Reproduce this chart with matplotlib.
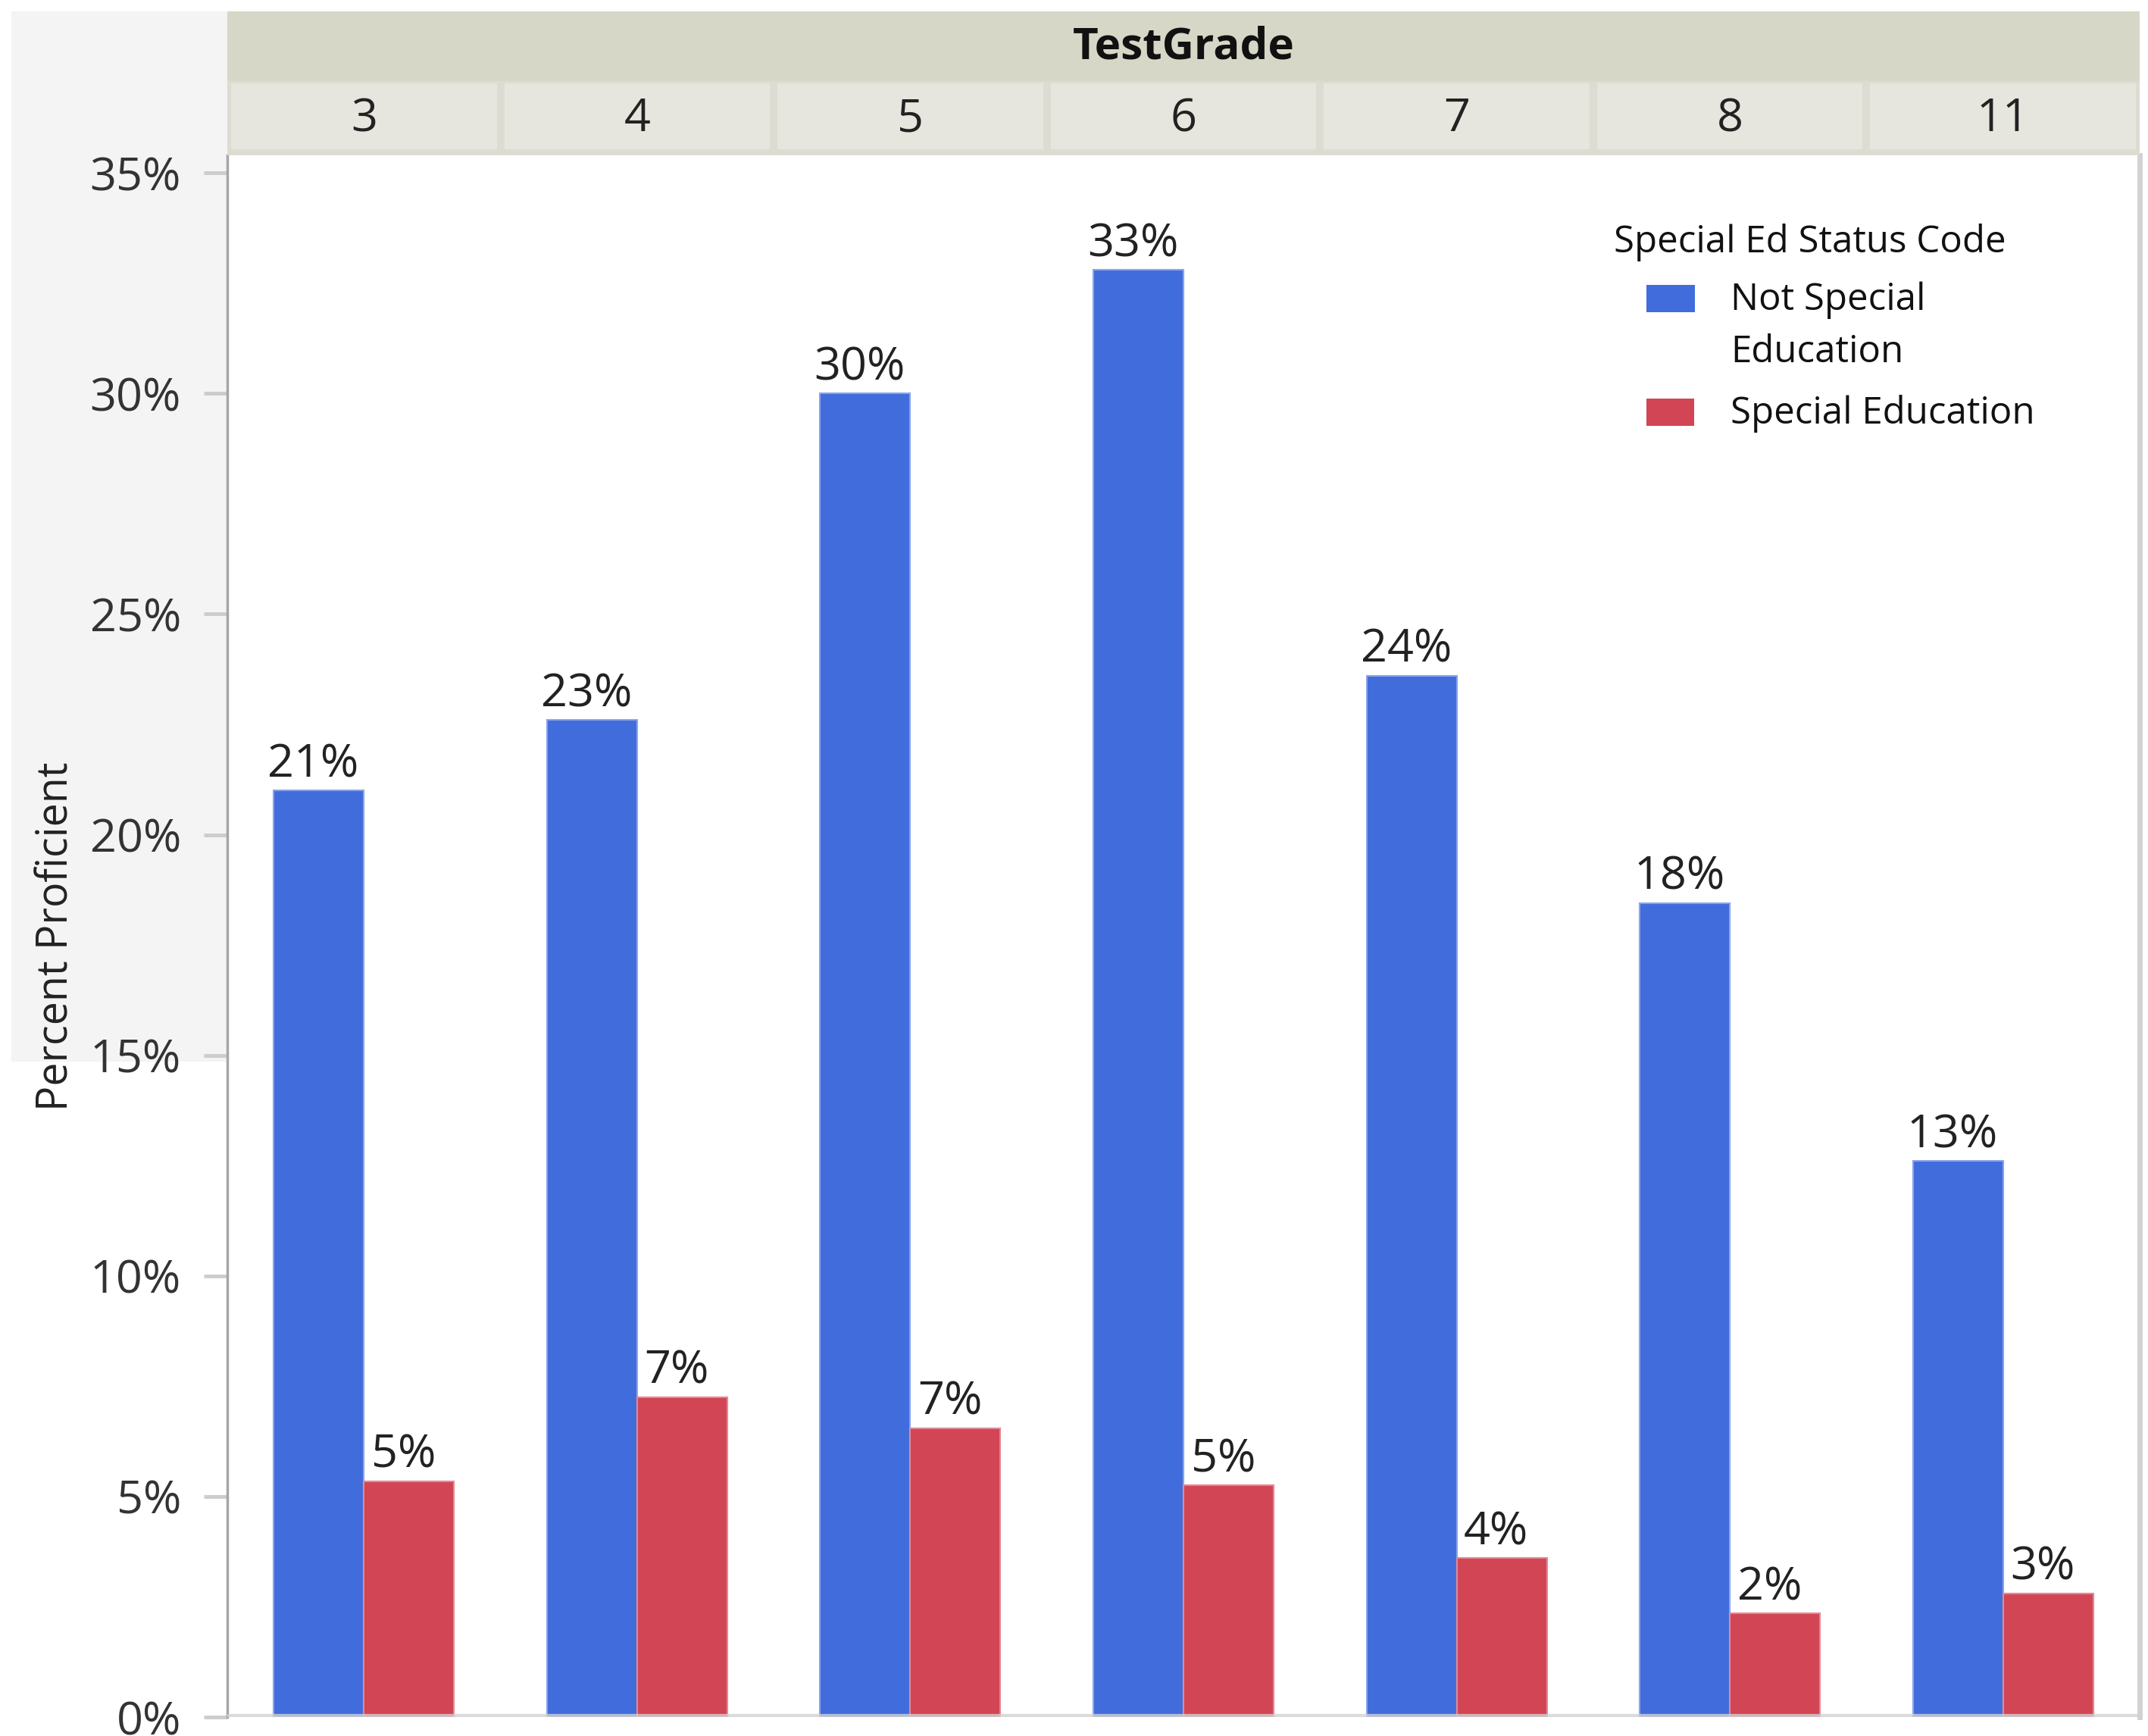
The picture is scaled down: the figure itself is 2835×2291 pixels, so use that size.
import matplotlib
matplotlib.use("Agg")
import matplotlib.pyplot as plt
from matplotlib.patches import Rectangle
import numpy as np

# values (percent proficient)
grades = ["3", "4", "5", "6", "7", "8", "11"]
not_sped = [21.0, 22.6, 30.0, 32.8, 23.6, 18.45, 12.6]
sped = [5.35, 7.25, 6.55, 5.25, 3.6, 2.35, 2.8]
series_names = ["Not Special\nEducation", "Special Education"]
legend_title = "Special Ed Status Code"
header_title = "TestGrade"
y_label = "Percent Proficient"
y_ticks = [0, 5, 10, 15, 20, 25, 30, 35]

BLUE = "#416cdc"
RED = "#d24555"

W, H = 2835, 2291
plt.rcParams['font.family'] = ['Open Sans', 'DejaVu Sans']


def fx(px):
    return px / W


def fy(py):
    return 1 - py / H


def fig_rect(x0, y0, x1, y1, color, z=0):
    # rectangle given in pixel coords (top-left origin)
    fig.patches.append(Rectangle((fx(x0), fy(y1)), fx(x1) - fx(x0), fy(y0) - fy(y1),
                                 transform=fig.transFigure, facecolor=color,
                                 edgecolor="none", zorder=z))


fig = plt.figure(figsize=(W / 100, H / 100), dpi=100)

# light grey panel behind the y axis
fig_rect(15, 15, 300, 1401, "#f4f4f4", z=-5)

left, right, top, bottom = 300, 2824, 205, 2266
ax = fig.add_axes([fx(left), fy(bottom), fx(right) - fx(left), fy(top) - fy(bottom)])
ax.set_zorder(1)

# header strips
fig_rect(left, 15, right, 107, "#d7d7c7", z=2)
fig_rect(left, 107, right, 205, "#dcdcd2", z=2)
cell_w = (right - left) / len(grades)
for i, g in enumerate(grades):
    x0 = left + i * cell_w
    fig_rect(x0 + 5, 110, x0 + cell_w - 5, 197, "#e6e6de", z=3)
    fig.text(fx(x0 + cell_w / 2), fy(157), g, ha="center", va="center",
             fontsize=44, color="#222222", zorder=4)
fig.text(fx((left + right) / 2), fy(63), header_title, ha="center", va="center",
         fontsize=42, fontweight="bold", color="#111111", zorder=4)

x = np.arange(len(grades))
bw = 0.33
ax.bar(x + 0.335, not_sped, width=bw, color=BLUE, edgecolor="#8aa3ea", linewidth=1.5, zorder=2)
ax.bar(x + 0.665, sped, width=bw, color=RED, edgecolor="#e08a94", linewidth=1.5, zorder=2)

for xi, v in zip(x + 0.335, not_sped):
    ax.annotate(f"{round(v)}%", (xi - 0.02, v), xytext=(0, 3), textcoords="offset points",
                ha="center", va="bottom", fontsize=44, color="#222222")
for xi, v in zip(x + 0.665, sped):
    ax.annotate(f"{round(v)}%", (xi - 0.02, v), xytext=(0, 3), textcoords="offset points",
                ha="center", va="bottom", fontsize=44, color="#222222")

ax.axhline(0, color="#d2d2d2", linewidth=6, alpha=0.8, zorder=3)

ax.set_xlim(0, len(grades))
ax.set_ylim(0, 35.4)
ax.set_xticks([])
ax.set_yticks(y_ticks)
ax.set_yticklabels([f"{t}%" for t in y_ticks])
ax.tick_params(axis="y", length=22, width=3.5, color="#cccccc", pad=22,
               labelsize=44, labelcolor="#333333")
for s in ["top", "bottom"]:
    ax.spines[s].set_visible(False)
ax.spines["left"].set_color("#a6a6a6")
ax.spines["left"].set_linewidth(2.5)
ax.spines["right"].set_color("#d2d2d2")
ax.spines["right"].set_linewidth(5)

fig.text(fx(75), fy((top + bottom) / 2), y_label, rotation=90, ha="center", va="center",
         fontsize=40, color="#222222", zorder=4)

# legend
fig.text(fx(2130), fy(320), legend_title, ha="left", va="center", fontsize=35.5,
         color="#111111", zorder=4)
fig_rect(2173, 376, 2237, 412, BLUE, z=4)
fig.text(fx(2284), fy(396), series_names[0].split("\n")[0], ha="left", va="center",
         fontsize=35.5, color="#111111", zorder=4)
fig.text(fx(2284), fy(465), series_names[0].split("\n")[1], ha="left", va="center",
         fontsize=35.5, color="#111111", zorder=4)
fig_rect(2173, 526, 2236, 562, RED, z=4)
fig.text(fx(2284), fy(546), series_names[1], ha="left", va="center", fontsize=35.5,
         color="#111111", zorder=4)

fig.savefig("out.png", dpi=100)
